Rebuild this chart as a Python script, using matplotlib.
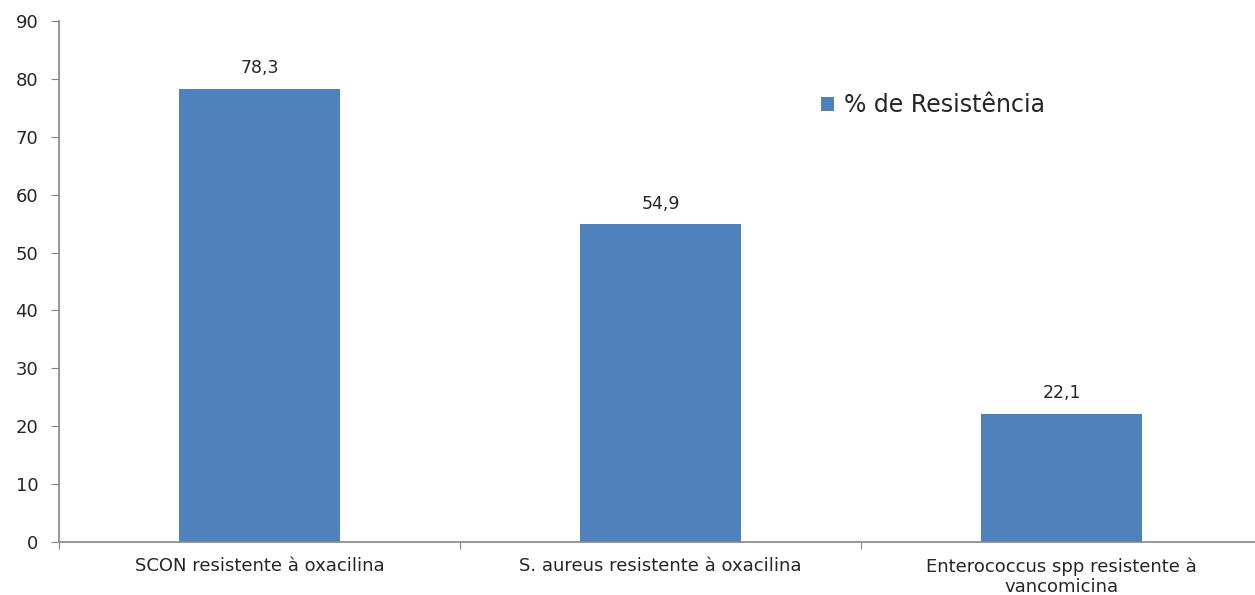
import numpy as np
import matplotlib.pyplot as plt

plt.rcParams['font.family'] = ['DejaVu Sans']

# dados
categorias = ['SCON resistente à oxacilina',
              'S. aureus resistente à oxacilina',
              'Enterococcus spp resistente à\nvancomicina']
resistencia = [78.3, 54.9, 22.1]
rotulos = ['78,3', '54,9', '22,1']
serie = '% de Resistência'

cor_barra = '#4F81BD'
cor_eixo = '#868686'
cor_texto = '#262626'

fig = plt.figure(figsize=(12.55, 5.95), dpi=100)
ax = fig.add_axes([59 / 1255, 53 / 595, (1262 - 59) / 1255, 521 / 595])

x = np.arange(len(categorias))
barras = ax.bar(x, resistencia, width=0.40, color=cor_barra, label=serie, zorder=2)

for xi, v, r in zip(x, resistencia, rotulos):
    ax.text(xi, v + 2.0, r, ha='center', va='bottom', fontsize=12.5, color=cor_texto)

ax.set_xlim(-0.5, len(categorias) - 0.5)
ax.set_ylim(0, 90)
ax.set_yticks(np.arange(0, 91, 10))
ax.tick_params(axis='y', direction='out', length=6, color=cor_eixo, labelsize=13,
               labelcolor=cor_texto, pad=9)

# marcas do eixo x nos limites das categorias
ax.set_xticks(np.arange(len(categorias) + 1) - 0.5)
ax.set_xticklabels([])
ax.tick_params(axis='x', direction='out', length=5, color=cor_eixo)
for xi, c in zip(x, categorias):
    ax.text(xi, -2.6, c, ha='center', va='top', fontsize=13, color=cor_texto,
            linespacing=1.2)

for s in ['top', 'right']:
    ax.spines[s].set_visible(False)
for s in ['left', 'bottom']:
    ax.spines[s].set_color(cor_eixo)
    ax.spines[s].set_linewidth(1.2)

fig.legend(handles=[barras], labels=[serie], loc='center left',
           bbox_to_anchor=(800 / 1255, 1 - 105 / 595), frameon=False,
           fontsize=17, handlelength=0.55, handleheight=0.55, handletextpad=0.4,
           labelcolor=cor_texto)

fig.savefig('out.png', dpi=100)
